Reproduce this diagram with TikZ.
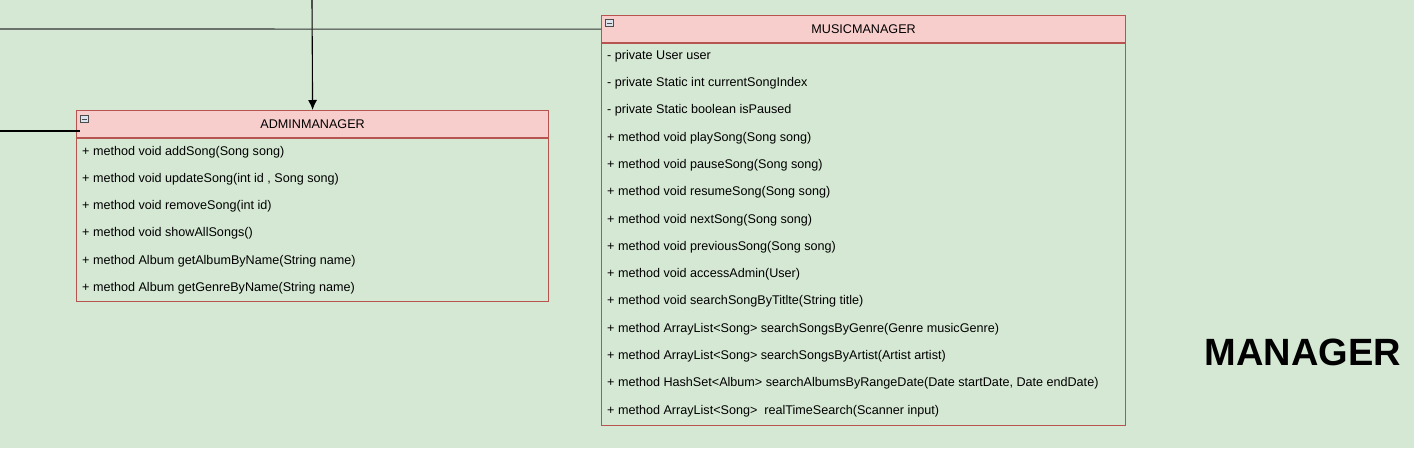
\documentclass[tikz,border=0pt]{standalone}
\usepackage{fontspec}
\setmainfont{Liberation Sans}
\usetikzlibrary{positioning,arrows.meta}

\definecolor{pagebg}{HTML}{D5E8D4}
\definecolor{headfill}{HTML}{F8CECC}
\definecolor{headline}{HTML}{B85450}
\definecolor{iconfill}{HTML}{DCE3EC}

\begin{document}
\begin{tikzpicture}[x=1pt,y=-1pt,
    umlhead/.style={draw=headline, line width=1.2pt, fill=headfill, anchor=north west, inner sep=0pt,
        minimum height=27pt, font=\fontsize{12.6}{15}\selectfont},
    umlbody/.style={draw=headline, line width=1.2pt, inner sep=0pt},
    umlrow/.style={anchor=west, inner sep=0pt, font=\fontsize{12.6}{15}\selectfont},
    iconbox/.style={draw=black!70, line width=0.8pt, fill=iconfill, minimum width=8pt, minimum height=7pt,
        inner sep=0pt, anchor=north west,
        path picture={\draw[line width=0.8pt] ([xshift=1.5pt]path picture bounding box.west)
            -- ([xshift=-1.5pt]path picture bounding box.east);}},
    link/.style={draw=black, line width=1.1pt}]

    % Background
    \useasboundingbox (0,0) rectangle (1414,448);
    \fill[pagebg] (0,0) rectangle (1414,448);

    % Define coordinates
    \coordinate (Top) at (312,0);
    \coordinate (LeftA) at (0,29);
    \coordinate (LeftB) at (0,131);
    \coordinate (EndB) at (80,131);

    % AdminManager class
    \node[umlhead, minimum width=472pt] (admhead) at (76,110) {ADMINMANAGER};
    \node[umlbody, minimum width=472pt, minimum height=163pt, below=0pt of admhead] (admbody) {};
    \node[iconbox] (admicon) at (80,115) {};
    \foreach \txt [count=\i] in {
        {+ method void addSong(Song song)},
        {+ method void updateSong(int id , Song song)},
        {+ method void removeSong(int id)},
        {+ method void showAllSongs()},
        {+ method Album getAlbumByName(String name)},
        {+ method Album getGenreByName(String name)}}
        \node[umlrow] (adm\i) at (82,{152+27.2*(\i-1)}) {\txt};

    % MusicManager class
    \node[umlhead, minimum width=524pt] (mushead) at (601,15) {MUSICMANAGER};
    \node[umlbody, minimum width=524pt, minimum height=382pt, below=0pt of mushead] (musbody) {};
    \node[iconbox] (musicon) at (605,19) {};
    \foreach \txt [count=\i] in {
        {- private User user},
        {- private Static int currentSongIndex},
        {- private Static boolean isPaused},
        {+ method void playSong(Song song)},
        {+ method void pauseSong(Song song)},
        {+ method void resumeSong(Song song)},
        {+ method void nextSong(Song song)},
        {+ method void previousSong(Song song)},
        {+ method void accessAdmin(User)},
        {+ method void searchSongByTitlte(String title)},
        {+ method ArrayList<Song> searchSongsByGenre(Genre musicGenre)},
        {+ method ArrayList<Song> searchSongsByArtist(Artist artist)},
        {+ method HashSet<Album> searchAlbumsByRangeDate(Date startDate, Date endDate)},
        {+ method ArrayList<Song>\ \ realTimeSearch(Scanner input)}}
        \node[umlrow] (mus\i) at (607,{56+27.3*(\i-1)}) {\txt};

    % Connectors
    \draw[link, -{Latex[length=10pt,width=9pt]}] (Top) -- (admhead.north);
    \draw[link, draw=black!80] (LeftA) -- (mushead.west);
    \draw[link] (LeftB) -- (EndB);

    % Title
    \node[font=\bfseries\fontsize{38}{44}\selectfont] (title) at (1303,352) {MANAGER};
\end{tikzpicture}
\end{document}
